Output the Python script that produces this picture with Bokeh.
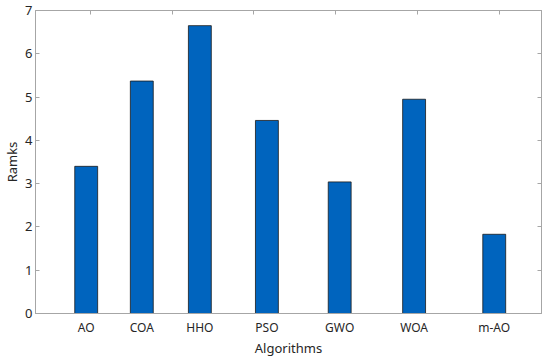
from bokeh.plotting import figure
from bokeh.models import Range1d, LinearAxis, FixedTicker
from bokeh.embed import file_html
from bokeh.resources import INLINE

algorithms = ["AO", "COA", "HHO", "PSO", "GWO", "WOA", "m-AO"]
ranks = [3.40, 5.37, 6.65, 4.46, 3.04, 4.95, 1.83]
x_pos = [0.95, 1.63, 2.34, 3.16, 4.05, 4.96, 5.94]
top_ticks = [1, 2, 3, 4, 5, 6]
y_ticks = [0, 1, 2, 3, 4, 5, 6, 7]

FONT = "Noto Sans"
TXT = "#262626"
AX = "#a6a6a6"

p = figure(width=542, height=359, output_backend="svg", toolbar_location=None,
           x_range=Range1d(0.33, 6.518), y_range=Range1d(0, 7),
           min_border_left=0, min_border_right=1, min_border_top=10, min_border_bottom=0,
           x_axis_label="Algorithms", y_axis_label="Ramks")
p.outline_line_color = AX
p.outline_line_width = 1
p.grid.visible = False
p.background_fill_color = "white"
p.border_fill_color = "white"

p.vbar(x=x_pos, top=ranks, bottom=0, width=0.28, fill_color="#0064BE",
       line_color="#1a1a1a", line_width=0.8)

# bottom axis
xa = p.xaxis[0]
xa.ticker = FixedTicker(ticks=x_pos)
xa.major_label_overrides = {x: a for x, a in zip(x_pos, algorithms)}
xa.major_tick_in = 0
xa.major_tick_out = 0
xa.minor_tick_line_color = None
xa.axis_line_color = AX
xa.major_label_text_font = FONT
xa.major_label_text_font_size = "12px"
xa.major_label_text_color = TXT
xa.major_label_standoff = 5
xa.axis_label_text_font = FONT
xa.axis_label_text_font_size = "13px"
xa.axis_label_text_font_style = "normal"
xa.axis_label_text_color = TXT
xa.axis_label_standoff = 0

# left axis
ya = p.yaxis[0]
ya.ticker = FixedTicker(ticks=y_ticks)
ya.major_tick_in = 4
ya.major_tick_out = 0
ya.major_tick_line_color = AX
ya.minor_tick_line_color = None
ya.axis_line_color = AX
ya.major_label_text_font = FONT
ya.major_label_text_font_size = "13px"
ya.major_label_text_color = TXT
ya.major_label_standoff = 3
ya.axis_label_text_font = FONT
ya.axis_label_text_font_size = "13px"
ya.axis_label_text_font_style = "normal"
ya.axis_label_text_color = TXT
ya.axis_label_standoff = 1

# top axis (ticks only)
ta = LinearAxis(ticker=FixedTicker(ticks=top_ticks))
ta.major_tick_in = 4
ta.major_tick_out = 0
ta.major_tick_line_color = AX
ta.minor_tick_line_color = None
ta.axis_line_color = AX
ta.major_label_overrides = {t: "" for t in top_ticks}
ta.major_label_text_font_size = "1px"
ta.major_label_standoff = 0
p.add_layout(ta, "above")

# right axis (ticks only)
ra = LinearAxis(ticker=FixedTicker(ticks=y_ticks))
ra.major_tick_in = 4
ra.major_tick_out = 0
ra.major_tick_line_color = AX
ra.minor_tick_line_color = None
ra.axis_line_color = AX
ra.major_label_overrides = {t: "" for t in y_ticks}
ra.major_label_text_font_size = "1px"
ra.major_label_standoff = 0
p.add_layout(ra, "right")

open("out.html", "w").write(file_html(p, INLINE))
